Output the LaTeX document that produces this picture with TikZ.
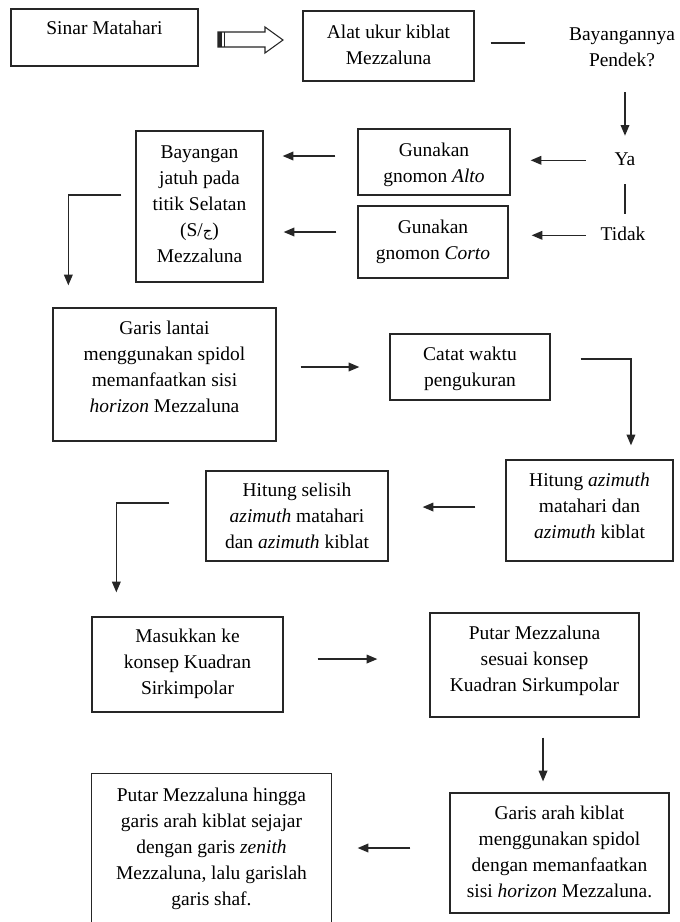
\documentclass[tikz,border=0pt]{standalone}
\usepackage{fontspec}
\setmainfont{Liberation Serif}
\newfontfamily\arabicfont[Script=Arabic]{DejaVu Sans}
\TeXXeTstate=1
\usetikzlibrary{arrows.meta,calc}
\begin{document}
\begin{tikzpicture}[x=0.75pt,y=-0.75pt,
  box/.style={draw=black!85, line width=1pt, inner sep=0pt, rectangle},
  txt/.style={inner sep=0pt, align=center, font=\fontsize{14.6}{19.5}\selectfont, text=black},
  one/.style={txt, text height=13.65pt, text depth=5.85pt},
  conn/.style={draw=black!85, line width=1pt},
  arr/.style={conn, -{Triangle[length=8pt,width=6.5pt]}}]
\fill[white] (0,0) rectangle (680,922);
\useasboundingbox (0,0) rectangle (680,922);

% boxes
\node[box, minimum width=140.25pt, minimum height=42.75pt] (sinar) at (104.5,37.5) {};
\node[box, minimum width=128.25pt, minimum height=52.5pt] (alat) at (388.5,46) {};
\node[box, minimum width=114pt, minimum height=49.5pt] (alto) at (434,162) {};
\node[box, minimum width=112.5pt, minimum height=54pt] (corto) at (433,242) {};
\node[box, minimum width=95.25pt, minimum height=113.25pt] (bay) at (199.5,206.5) {};
\node[box, minimum width=167.25pt, minimum height=99.75pt] (garis) at (164.5,374.5) {};
\node[box, minimum width=120pt, minimum height=49.5pt] (catat) at (470,367) {};
\node[box, minimum width=125.25pt, minimum height=75.75pt] (hitaz) at (589.5,510.5) {};
\node[box, minimum width=136.5pt, minimum height=67.5pt] (hitsel) at (297,516) {};
\node[box, minimum width=143.25pt, minimum height=71.25pt] (masuk) at (187.5,664.5) {};
\node[box, minimum width=156.75pt, minimum height=78pt] (putar) at (534.5,665) {};
\node[box, minimum width=164.25pt, minimum height=90pt] (garah) at (559.5,853) {};
\node[box, draw=none, minimum width=179.25pt, minimum height=111pt] (hingga) at (211.5,848) {};
\draw[conn] (hingga.south west) -- (hingga.north west) -- (hingga.north east) -- (hingga.south east);

% texts
\node[one] (sinar-t) at (104.5,29.3) {Sinar Matahari};
\node[txt] (alat-t) at (388.5,45.8) {\strut Alat ukur kiblat\\ Mezzaluna\strut};
\node[txt] (q) at (622,48.3) {\strut Bayangannya\\ Pendek?\strut};
\node[one] (ya) at (625,160.3) {Ya};
\node[one] (tidak) at (623,235.3) {Tidak};
\node[txt] (alto-t) at (434,164.3) {\strut Gunakan\\ gnomon \textit{Alto}\strut};
\node[txt] (corto-t) at (433,240.8) {\strut Gunakan\\ gnomon \textit{Corto}\strut};
\node[txt] (bay-t) at (199.5,205.3) {\strut Bayangan\\ jatuh pada\\ titik Selatan\\ (S/{\arabicfont\fontsize{11}{12}\selectfont\beginR ج\endR})\\ Mezzaluna\strut};
\node[txt] (garis-t) at (164.5,367.8) {\strut Garis lantai\\ menggunakan spidol\\ memanfaatkan sisi\\ \textit{horizon} Mezzaluna\strut};
\node[txt] (catat-t) at (470,368.3) {\strut Catat waktu\\ pengukuran\strut};
\node[txt] (hitaz-t) at (589.5,506.8) {\strut Hitung \textit{azimuth}\\ matahari dan\\ \textit{azimuth} kiblat\strut};
\node[txt] (hitsel-t) at (297,516.8) {\strut Hitung selisih\\ \textit{azimuth} matahari\\ dan \textit{azimuth} kiblat\strut};
\node[txt] (masuk-t) at (187.5,662.8) {\strut Masukkan ke\\ konsep Kuadran\\ Sirkimpolar\strut};
\node[txt] (putar-t) at (534.5,659.8) {\strut Putar Mezzaluna\\ sesuai konsep\\ Kuadran Sirkumpolar\strut};
\node[txt] (garah-t) at (559.5,852.8) {\strut Garis arah kiblat\\ menggunakan spidol\\ dengan memanfaatkan\\ sisi \textit{horizon} Mezzaluna.\strut};
\node[txt] (hingga-t) at (211.5,848.3) {\strut Putar Mezzaluna hingga\\ garis arah kiblat sejajar\\ dengan garis \textit{zenith}\\ Mezzaluna, lalu garislah\\ garis shaf.\strut};

% open (block) arrow from Sinar Matahari to Alat ukur
\draw[conn, line width=0.8pt, fill=white] (218,32) -- (265,32) -- (265,27) -- (283,40) -- (265,53) -- (265,47) -- (218,47) -- cycle;
\fill[black!85] (218,32) rectangle (222,47);
\draw[conn, line width=0.5pt] (224,32) -- (224,47);

% connectors
\draw[conn] ($(alat.east)+(16,-3)$) -- ($(alat.east)+(50,-3)$);
\draw[arr, shorten <=13.3pt, shorten >=8.5pt] (q.south -| ya.north) -- (ya.north);
\draw[conn, shorten <=8pt, shorten >=6.2pt] (ya.south) -- (ya.south |- tidak.north);
\draw[arr, shorten <=21.5pt, shorten >=15pt] (ya.west) -- (ya.west -| alto.east);
\draw[arr, shorten <=10.8pt, shorten >=17.25pt] (tidak.west) -- (tidak.west -| corto.east);
\draw[arr, shorten <=16.5pt, shorten >=14.25pt] ([yshift=4.5pt]alto.west) -- ([yshift=4.5pt]alto.west -| bay.east);
\draw[arr, shorten <=15.75pt, shorten >=15pt] ([yshift=7.5pt]corto.west) -- ([yshift=7.5pt]corto.west -| bay.east);
\draw[arr] ([xshift=-10.5pt,yshift=8.6pt]bay.west) -| ([xshift=12pt,yshift=16.5pt]garis.north west);
\draw[arr, shorten <=18pt, shorten >=22.5pt] (garis.east |- catat.west) -- (catat.west);
\draw[arr] ([xshift=22.5pt,yshift=6pt]catat.east) -| ([xshift=31.1pt,yshift=10.5pt]hitaz.north);
\draw[arr, shorten <=22.5pt, shorten >=25.5pt] ([yshift=2.6pt]hitaz.west) -- ([yshift=2.6pt]hitaz.west -| hitsel.east);
\draw[arr] ([xshift=-27pt,yshift=9.75pt]hitsel.west) -| ([xshift=18.75pt,yshift=18pt]masuk.north west);
\draw[arr, shorten <=25.5pt, shorten >=39pt] ([yshift=4.1pt]masuk.east) -- ([yshift=4.1pt]masuk.east -| putar.west);
\draw[arr, shorten <=15pt, shorten >=8.25pt] ([xshift=6.4pt]putar.south) -- ([xshift=6.4pt]putar.south |- garah.north);
\draw[arr, shorten <=29.25pt, shorten >=19.5pt] ([yshift=3.75pt]garah.west) -- ([yshift=3.75pt]garah.west -| hingga.east);
\end{tikzpicture}
\end{document}
